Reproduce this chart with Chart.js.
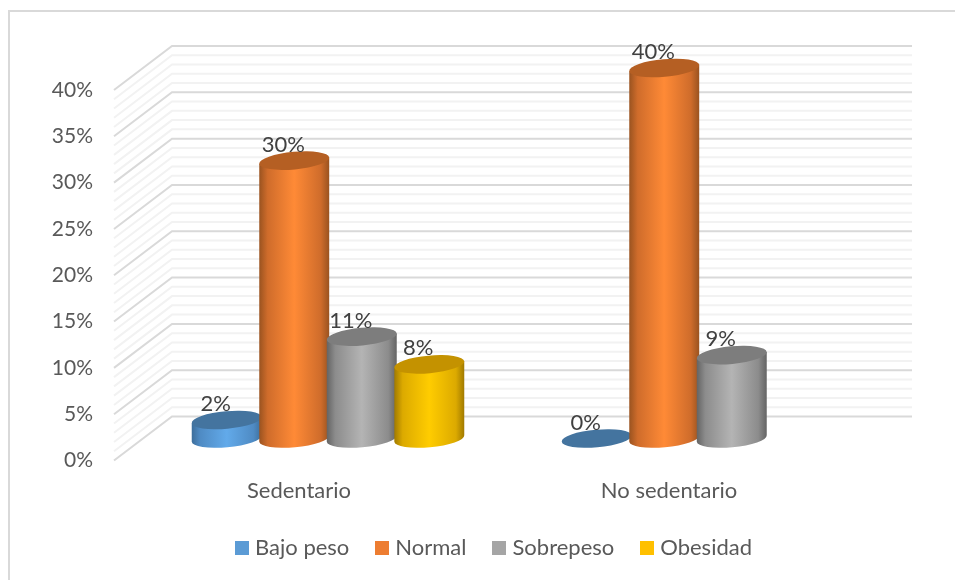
<!DOCTYPE html>
<html>
<head>
<meta charset="utf-8">
<title>Sedentarismo</title>
<script src="https://cdn.jsdelivr.net/npm/chart.js@4/dist/chart.umd.min.js"></script>
<style>
  html, body { margin: 0; background: #fff; }
  canvas { display: block; }
</style>
</head>
<body>
<canvas id="chart" width="955" height="580"></canvas>
<script>
const categories = ['Sedentario', 'No sedentario'];
const bajoPeso = [2, 0];
const normal = [30, 40];
const sobrepeso = [11, 9];
const obesidad = [8, null];

const FONT = 'Lato, "Open Sans", sans-serif';
const TEXT = '#595959';

// depth of the back wall, in px, and where the cylinders stand between front and back
const DEPTH_X = 58;
const DEPTH_Y = 44;
const BAR_DEPTH = 0.5;

const tints = [
  { legend: '#5b9bd5', top: '#44749f', edge: '#3d6e9b', shade: '#4f8bc4', mid: '#62aaea' },
  { legend: '#ed7d31', top: '#b55f23', edge: '#9a5320', shade: '#cf6c2b', mid: '#ff8a36' },
  { legend: '#a5a5a5', top: '#7d7d7d', edge: '#646464', shade: '#8c8c8c', mid: '#b4b4b4' },
  { legend: '#ffc000', top: '#c49200', edge: '#a17a00', shade: '#dcaa00', mid: '#ffcc00' }
];

// square legend marker; the built-in box leaves too wide a gap before the text
function swatch(color) {
  const c = document.createElement('canvas');
  c.width = 14;
  c.height = 14;
  const g = c.getContext('2d');
  g.fillStyle = color;
  g.fillRect(0, 0, 14, 14);
  return c;
}

function drawWalls(chart) {
  const { ctx, chartArea, scales } = chart;
  ctx.save();
  // minor lines first so the 5% lines sit on top
  for (const major of [false, true]) {
    ctx.strokeStyle = major ? '#d9d9d9' : '#f2f2f2';
    ctx.lineWidth = 2;
    for (let v = scales.y.min; v <= scales.y.max; v++) {
      if ((v % 5 === 0) !== major) continue;
      const y = scales.y.getPixelForValue(v);
      ctx.beginPath();
      ctx.moveTo(chartArea.left, y);
      ctx.lineTo(chartArea.left + DEPTH_X, y - DEPTH_Y);
      ctx.lineTo(chartArea.right + DEPTH_X, y - DEPTH_Y);
      ctx.stroke();
    }
  }
  ctx.restore();
}

function drawCylinder(ctx, bar, tint) {
  const cx = bar.x + DEPTH_X * BAR_DEPTH;
  const top = bar.y - DEPTH_Y * BAR_DEPTH;
  const bottom = bar.base - DEPTH_Y * BAR_DEPTH;
  const rx = bar.width * 0.52;
  const ry = 8.8;
  const tilt = -0.09;
  const ex = rx * Math.cos(tilt);
  const ey = rx * Math.sin(tilt);

  if (bottom - top > 0.5) {
    const grad = ctx.createLinearGradient(cx - ex, 0, cx + ex, 0);
    grad.addColorStop(0, tint.edge);
    grad.addColorStop(0.12, tint.shade);
    grad.addColorStop(0.5, tint.mid);
    grad.addColorStop(0.88, tint.shade);
    grad.addColorStop(1, tint.edge);
    ctx.fillStyle = grad;
    ctx.beginPath();
    ctx.moveTo(cx - ex, top - ey);
    ctx.lineTo(cx + ex, top + ey);
    ctx.lineTo(cx + ex, bottom + ey);
    ctx.ellipse(cx, bottom, rx, ry, tilt, 0, Math.PI);
    ctx.closePath();
    ctx.fill();
  }
  ctx.fillStyle = tint.top;
  ctx.beginPath();
  ctx.ellipse(cx, top, rx, ry, tilt, 0, Math.PI * 2);
  ctx.fill();
}

const cylinders = {
  id: 'cylinders',
  beforeDraw(chart) {
    // frame: only the top and left edges fall inside the canvas
    const { ctx, width, height } = chart;
    ctx.save();
    ctx.strokeStyle = '#d9d9d9';
    ctx.lineWidth = 2;
    ctx.beginPath();
    ctx.moveTo(9, height);
    ctx.lineTo(9, 11);
    ctx.lineTo(width, 11);
    ctx.stroke();
    ctx.restore();
  },
  afterLayout(chart) {
    // legend is centred on the plot and its back wall, not on the front plane
    chart.legend.left += 54;
    chart.legend.right += 54;
  },
  beforeDatasetsDraw(chart) {
    const { ctx } = chart;
    drawWalls(chart);
    categories.forEach((_, i) => {
      chart.data.datasets.forEach((ds, d) => {
        if (ds.data[i] === null) return;
        drawCylinder(ctx, chart.getDatasetMeta(d).data[i], tints[d]);
      });
    });
    ctx.save();
    ctx.font = '22px ' + FONT;
    ctx.fillStyle = '#404040';
    ctx.textAlign = 'center';
    ctx.textBaseline = 'middle';
    categories.forEach((_, i) => {
      chart.data.datasets.forEach((ds, d) => {
        if (ds.data[i] === null) return;
        const bar = chart.getDatasetMeta(d).data[i];
        ctx.fillText(ds.data[i] + '%', bar.x + DEPTH_X * BAR_DEPTH - 11, bar.y - DEPTH_Y * BAR_DEPTH - 16);
      });
    });
    ctx.restore();
    return false;
  }
};

new Chart(document.getElementById('chart'), {
  type: 'bar',
  plugins: [cylinders],
  data: {
    labels: categories,
    datasets: [
      { label: 'Bajo peso', data: bajoPeso, backgroundColor: tints[0].legend },
      { label: 'Normal', data: normal, backgroundColor: tints[1].legend },
      { label: 'Sobrepeso', data: sobrepeso, backgroundColor: tints[2].legend },
      { label: 'Obesidad', data: obesidad, backgroundColor: tints[3].legend }
    ]
  },
  options: {
    responsive: false,
    animation: false,
    layout: { padding: { left: 30, right: 101, top: 90, bottom: 11 } },
    datasets: { bar: { categoryPercentage: 0.73, barPercentage: 1 } },
    scales: {
      x: {
        grid: { display: false },
        border: { display: false },
        ticks: { color: TEXT, font: { family: FONT, size: 22 }, padding: 9.5 },
        afterFit(scale) { scale.height = 45.5; }
      },
      y: {
        min: 0,
        max: 40,
        grid: { display: false },
        border: { display: false },
        ticks: { stepSize: 5, color: TEXT, padding: 13, font: { family: FONT, size: 21 }, callback: v => v + '%' },
        afterFit(scale) { scale.width = 84; }
      }
    },
    plugins: {
      legend: {
        position: 'bottom',
        labels: {
          color: TEXT,
          font: { family: FONT, size: 22 },
          usePointStyle: true,
          boxWidth: 4,
          boxHeight: 4,
          padding: 31,
          generateLabels: chart => Chart.defaults.plugins.legend.labels.generateLabels(chart)
            .map((item, i) => ({ ...item, pointStyle: swatch(tints[i].legend) }))
        }
      },
      tooltip: { enabled: false }
    }
  }
});
</script>
</body>
</html>
